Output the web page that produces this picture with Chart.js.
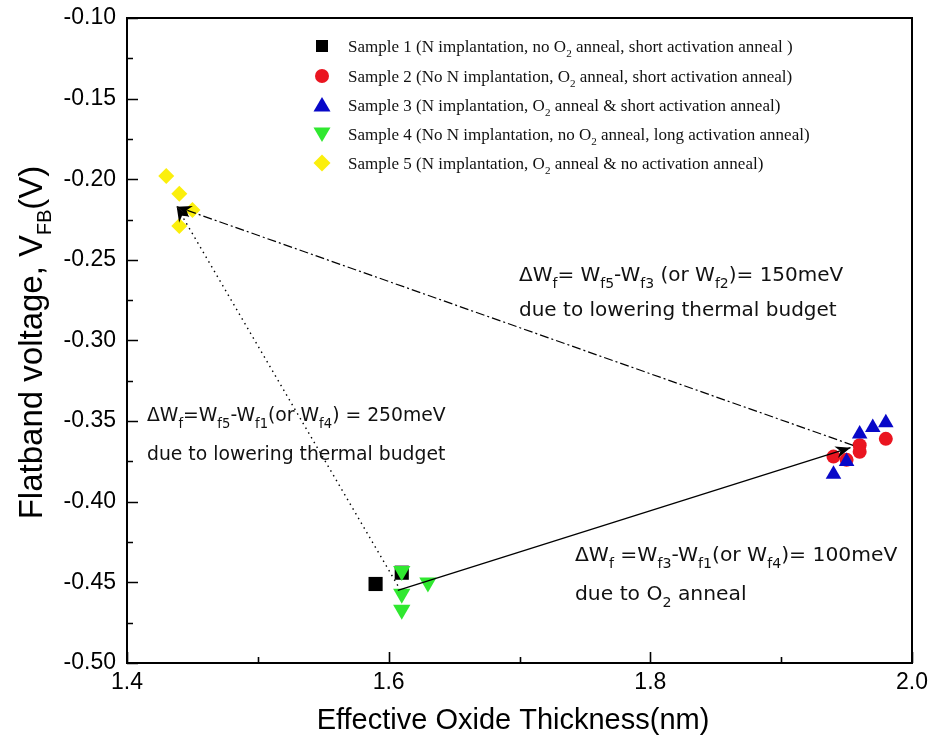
<!DOCTYPE html>
<html>
<head>
<meta charset="utf-8">
<script src="https://cdn.jsdelivr.net/npm/chart.js@4.4.1/dist/chart.umd.min.js"></script>
<style>
  html, body { margin: 0; padding: 0; background: #fff; }
  canvas { display: block; }
</style>
</head>
<body>
<canvas id="c" width="933" height="738"></canvas>
<script>
// ---- data: EOT (nm) vs flatband voltage (V) ----
const sample1X = [1.59, 1.61];
const sample1Y = [-0.451, -0.444];
const sample2X = [1.94, 1.95, 1.96, 1.96, 1.98];
const sample2Y = [-0.372, -0.374, -0.365, -0.369, -0.361];
const sample3X = [1.94, 1.95, 1.96, 1.97, 1.98];
const sample3Y = [-0.383, -0.375, -0.358, -0.354, -0.351];
const sample4X = [1.61, 1.61, 1.61, 1.63];
const sample4Y = [-0.443, -0.457, -0.467, -0.450];
const sample5X = [1.43, 1.44, 1.45, 1.44];
const sample5Y = [-0.198, -0.209, -0.219, -0.229];

// connector arrows between sample groups (start -> arrow tip)
const arrowO2X = [1.607, 1.953];      // sample 1/4 -> sample 3 (solid)
const arrowO2Y = [-0.455, -0.3665];
const arrowS3X = [1.955, 1.438];      // sample 3 -> sample 5 (dash-dot)
const arrowS3Y = [-0.365, -0.217];
const arrowS1X = [1.607, 1.438];      // sample 1/4 -> sample 5 (dotted)
const arrowS1Y = [-0.452, -0.217];

const xTicks = [1.4, 1.6, 1.8, 2.0];
const yTicks = [-0.10, -0.15, -0.20, -0.25, -0.30, -0.35, -0.40, -0.45, -0.50];

const legendLabels = [
  [['Sample 1 (N implantation, no O', 0], ['2', 1], [' anneal, short activation anneal )', 0]],
  [['Sample 2 (No N implantation, O', 0], ['2', 1], [' anneal, short activation anneal)', 0]],
  [['Sample 3 (N implantation, O', 0], ['2', 1], [' anneal & short activation anneal)', 0]],
  [['Sample 4 (No N implantation, no O', 0], ['2', 1], [' anneal, long activation anneal)', 0]],
  [['Sample 5 (N implantation, O', 0], ['2', 1], [' anneal & no activation anneal)', 0]]
];

const noteUpper = [
  [['ΔW', 0], ['f', 1], ['= W', 0], ['f5', 1], ['-W', 0], ['f3', 1], [' (or W', 0], ['f2', 1], [')= 150meV', 0]],
  [['due to lowering thermal budget', 0]]
];
const noteLeft = [
  [['ΔW', 0], ['f', 1], ['=W', 0], ['f5', 1], ['-W', 0], ['f1', 1], ['(or W', 0], ['f4', 1], [') = 250meV', 0]],
  [['due to lowering thermal budget', 0]]
];
const noteLower = [
  [['ΔW', 0], ['f', 1], [' =W', 0], ['f3', 1], ['-W', 0], ['f1', 1], ['(or W', 0], ['f4', 1], [')= 100meV', 0]],
  [['due to O', 0], ['2', 1], [' anneal', 0]]
];

const COLORS = {
  s1: '#000000',
  s2: '#ea1520',
  s3: '#0808c8',
  s4: '#30e830',
  s5: '#fbef0c'
};

const pts = (xs, ys) => xs.map((x, i) => ({ x, y: ys[i] }));

// ---- layout ----
const W = 933, H = 738;
const AREA = { left: 127, top: 18, right: 912, bottom: 663 };

function drawRich(ctx, x, y, parts, size, family, subScale, subDrop) {
  let cx = x;
  for (const [t, sub] of parts) {
    if (sub) {
      ctx.font = `${(size * subScale).toFixed(1)}px ${family}`;
      ctx.fillText(t, cx, y + size * subDrop);
    } else {
      ctx.font = `${size}px ${family}`;
      ctx.fillText(t, cx, y);
    }
    cx += ctx.measureText(t).width;
  }
  return cx - x;
}

function richWidth(ctx, parts, size, family, subScale) {
  let w = 0;
  for (const [t, sub] of parts) {
    ctx.font = `${sub ? (size * subScale).toFixed(1) : size}px ${family}`;
    w += ctx.measureText(t).width;
  }
  return w;
}

function legendMarker(ctx, shape, x, y, color) {
  ctx.save();
  ctx.fillStyle = color;
  ctx.beginPath();
  if (shape === 'rect') {
    ctx.rect(x - 6, y - 6, 12, 12);
  } else if (shape === 'circle') {
    ctx.arc(x, y, 7, 0, Math.PI * 2);
  } else if (shape === 'up') {
    ctx.moveTo(x, y - 8); ctx.lineTo(x + 8.5, y + 6.5); ctx.lineTo(x - 8.5, y + 6.5);
  } else if (shape === 'down') {
    ctx.moveTo(x, y + 8); ctx.lineTo(x + 8.5, y - 6.5); ctx.lineTo(x - 8.5, y - 6.5);
  } else if (shape === 'diamond') {
    ctx.moveTo(x, y - 8.5); ctx.lineTo(x + 8.5, y); ctx.lineTo(x, y + 8.5); ctx.lineTo(x - 8.5, y);
  }
  ctx.closePath();
  ctx.fill();
  ctx.restore();
}

const decorPlugin = {
  id: 'decor',
  afterDatasetsDraw(chart) {
    const ctx = chart.ctx;
    // arrowheads at the last point of each connector
    chart.data.datasets.forEach((ds, i) => {
      if (!ds.arrowHead) return;
      const meta = chart.getDatasetMeta(i);
      const a = meta.data[meta.data.length - 2], b = meta.data[meta.data.length - 1];
      const ang = Math.atan2(b.y - a.y, b.x - a.x);
      const len = 15, half = 6;
      ctx.save();
      ctx.translate(b.x, b.y);
      ctx.rotate(ang);
      ctx.fillStyle = '#000';
      ctx.beginPath();
      ctx.moveTo(0, 0);
      ctx.lineTo(-len, -half);
      ctx.lineTo(-len * 0.7, 0);
      ctx.lineTo(-len, half);
      ctx.closePath();
      ctx.fill();
      ctx.restore();
    });
  },
  afterDraw(chart) {
    const ctx = chart.ctx;
    const { left, right, top, bottom } = chart.chartArea;
    const xs = chart.scales.x, ys = chart.scales.y;
    ctx.save();
    ctx.strokeStyle = '#000';
    ctx.lineWidth = 2;
    // frame (top & right)
    ctx.beginPath();
    ctx.moveTo(left, top); ctx.lineTo(right, top); ctx.lineTo(right, bottom);
    ctx.stroke();
    // inward ticks: majors labelled, minors between
    ctx.lineWidth = 1.6;
    ctx.beginPath();
    for (let v = 1.4; v <= 2.0001; v += 0.1) {
      const px = Math.round(xs.getPixelForValue(v)) + 0.5;
      const major = Math.abs((v - 1.4) / 0.2 - Math.round((v - 1.4) / 0.2)) < 1e-6;
      ctx.moveTo(px, bottom); ctx.lineTo(px, bottom - (major ? 11 : 6));
    }
    for (let v = -0.5; v <= -0.0999; v += 0.025) {
      const py = Math.round(ys.getPixelForValue(v)) + 0.5;
      const major = Math.abs((v + 0.5) / 0.05 - Math.round((v + 0.5) / 0.05)) < 1e-6;
      ctx.moveTo(left, py); ctx.lineTo(left + (major ? 11 : 6), py);
    }
    ctx.stroke();

    // axis titles
    ctx.fillStyle = '#000';
    ctx.textBaseline = 'alphabetic';
    ctx.textAlign = 'left';
    const tf = "'Liberation Sans', Arial, sans-serif";
    ctx.font = `29px ${tf}`;
    const xt = 'Effective Oxide Thickness(nm)';
    const xtw = ctx.measureText(xt).width;
    ctx.fillText(xt, 513 - xtw / 2, 729);

    const yParts = [['Flatband voltage, V', 0], ['FB', 1], ['(V)', 0]];
    ctx.save();
    const ytw = richWidth(ctx, yParts, 33, tf, 0.6);
    ctx.translate(42, (top + bottom) / 2 + 2);
    ctx.rotate(-Math.PI / 2);
    drawRich(ctx, -ytw / 2, 0, yParts, 33, tf, 0.6, 0.28);
    ctx.restore();

    // legend
    const lf = "'Liberation Serif', 'Times New Roman', serif";
    const shapes = ['rect', 'circle', 'up', 'down', 'diamond'];
    const cols = [COLORS.s1, COLORS.s2, COLORS.s3, COLORS.s4, COLORS.s5];
    const rows = [46, 76, 105, 134, 163];
    legendLabels.forEach((parts, i) => {
      legendMarker(ctx, shapes[i], 322, rows[i], cols[i]);
      ctx.fillStyle = '#111';
      drawRich(ctx, 348, rows[i] + 6, parts, 17, lf, 0.65, 0.32);
    });

    // annotations
    const nf = "'DejaVu Sans', Verdana, sans-serif";
    ctx.fillStyle = '#111';
    const note = (lines, x, y0, y1, size) => {
      drawRich(ctx, x, y0, lines[0], size, nf, 0.7, 0.36);
      drawRich(ctx, x, y1, lines[1], size, nf, 0.7, 0.36);
    };
    note(noteUpper, 519, 281, 316, 20);
    note(noteLeft, 147, 421, 460, 18.8);
    note(noteLower, 575, 561, 600, 20.3);
    ctx.restore();
  }
};

const tickFont = { family: "'Liberation Sans', Arial, sans-serif", size: 23 };

new Chart(document.getElementById('c'), {
  type: 'scatter',
  data: {
    datasets: [
      { label: 'O2 anneal', data: pts(arrowO2X, arrowO2Y), showLine: true, borderColor: '#000', borderWidth: 1.3,
        pointRadius: 0, arrowHead: true, order: 0 },
      { label: 'thermal budget (S3)', data: pts(arrowS3X, arrowS3Y), showLine: true, borderColor: '#000', borderWidth: 1.2,
        borderDash: [9, 3, 2, 3], pointRadius: 0, arrowHead: true, order: 0 },
      { label: 'thermal budget (S1)', data: pts(arrowS1X, arrowS1Y), showLine: true, borderColor: '#000', borderWidth: 1.4,
        borderDash: [1.5, 4], pointRadius: 0, arrowHead: true, order: 0 },
      { label: 'Sample 1', data: pts(sample1X, sample1Y), pointStyle: 'rect', pointRadius: 10,
        backgroundColor: COLORS.s1, borderColor: COLORS.s1, borderWidth: 0, order: 5 },
      { label: 'Sample 2', data: pts(sample2X, sample2Y), pointStyle: 'circle', pointRadius: 7,
        backgroundColor: COLORS.s2, borderColor: COLORS.s2, borderWidth: 0, order: 4 },
      { label: 'Sample 3', data: pts(sample3X, sample3Y), pointStyle: 'triangle', pointRadius: 9,
        backgroundColor: COLORS.s3, borderColor: COLORS.s3, borderWidth: 0, order: 3 },
      { label: 'Sample 4', data: pts(sample4X, sample4Y), pointStyle: 'triangle', pointRotation: 180, pointRadius: 10,
        backgroundColor: COLORS.s4, borderColor: COLORS.s4, borderWidth: 0, order: 2 },
      { label: 'Sample 5', data: pts(sample5X, sample5Y), pointStyle: 'rectRot', pointRadius: 8,
        backgroundColor: COLORS.s5, borderColor: COLORS.s5, borderWidth: 0, order: 1 }
    ]
  },
  options: {
    responsive: false,
    animation: false,
    devicePixelRatio: 1,
    layout: { padding: { left: 0, top: AREA.top, right: W - AREA.right, bottom: 0 } },
    plugins: { legend: { display: false }, tooltip: { enabled: false } },
    elements: { line: { tension: 0 } },
    scales: {
      x: {
        type: 'linear',
        min: xTicks[0], max: xTicks[xTicks.length - 1],
        afterFit(s) { s.height = H - AREA.bottom; },
        afterBuildTicks(s) { s.ticks = xTicks.map(v => ({ value: v })); },
        grid: { display: false },
        border: { display: true, color: '#000', width: 2 },
        ticks: { color: '#000', font: tickFont, padding: -2, maxRotation: 0, autoSkip: false,
                 callback: v => Number(v).toFixed(1) }
      },
      y: {
        type: 'linear',
        min: yTicks[yTicks.length - 1], max: yTicks[0],
        afterFit(s) { s.width = AREA.left; },
        afterBuildTicks(s) { s.ticks = yTicks.map(v => ({ value: v })); },
        grid: { display: false },
        border: { display: true, color: '#000', width: 2 },
        ticks: { color: '#000', font: tickFont, padding: 3, autoSkip: false,
                 callback: v => Number(v).toFixed(2) }
      }
    }
  },
  plugins: [decorPlugin]
});
</script>
</body>
</html>
